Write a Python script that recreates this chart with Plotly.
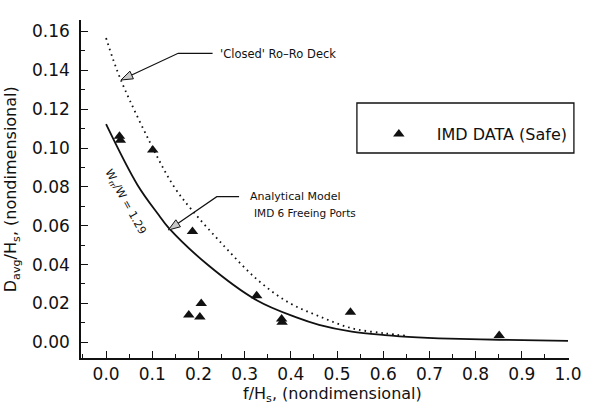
import plotly.graph_objects as go

# ---- data ----
imd_f = [0.029, 0.031, 0.101, 0.179, 0.187, 0.203, 0.206, 0.326, 0.380, 0.381, 0.529, 0.851]
imd_d = [0.106, 0.104, 0.099, 0.014, 0.057, 0.013, 0.020, 0.024, 0.012, 0.0103, 0.0155, 0.0035]

model_f = [0.0, 0.068, 0.114, 0.135, 0.22, 0.327, 0.412, 0.461, 0.532, 0.603, 0.674, 0.72, 0.85, 1.0]
model_d = [0.1123, 0.0810, 0.0655, 0.0590, 0.0399, 0.0215, 0.0128, 0.0090, 0.0055, 0.0037, 0.0025, 0.0020, 0.0013, 0.0007]

roro_f = [0.0, 0.032, 0.114, 0.149, 0.185, 0.256, 0.327, 0.395, 0.461, 0.532, 0.603, 0.65]
roro_d = [0.1566, 0.135, 0.094, 0.0794, 0.0683, 0.0494, 0.0323, 0.0205, 0.0134, 0.0072, 0.0046, 0.0033]

x_ticks = [0.0, 0.1, 0.2, 0.3, 0.4, 0.5, 0.6, 0.7, 0.8, 0.9, 1.0]
y_ticks = [0.00, 0.02, 0.04, 0.06, 0.08, 0.10, 0.12, 0.14, 0.16]

# ---- layout geometry (pixels) ----
W, H = 594, 406
L, R, T, B = 81, 16, 20, 48
PW, PH = W - L - R, H - T - B


def px(x):
    return (x - L) / PW


def py(y):
    return (H - B - y) / PH


FONT = "DejaVu Sans"
INK = "#111111"

fig = go.Figure()

fig.add_trace(go.Scatter(x=roro_f, y=roro_d, mode="lines", line=dict(color=INK, width=1.8, dash="1.6px,4px", shape="spline", smoothing=1.0),
                         showlegend=False, hoverinfo="skip"))
fig.add_trace(go.Scatter(x=model_f, y=model_d, mode="lines", line=dict(color=INK, width=1.8, shape="spline", smoothing=1.0),
                         showlegend=False, hoverinfo="skip"))
fig.add_trace(go.Scatter(x=imd_f, y=imd_d, mode="markers", name="IMD DATA (Safe)",
                         marker=dict(symbol="triangle-up", size=10, color=INK)))

shapes = []
# legend box
shapes.append(dict(type="rect", xref="paper", yref="paper", x0=px(362), x1=px(583), y0=py(153), y1=py(103),
                   line=dict(color=INK, width=1.3), fillcolor="rgba(0,0,0,0)"))


def leader(tip, bend, end):
    (tx, ty), (bx, by), (ex, ey) = tip, bend, end
    dx, dy = bx - tx, by - ty
    n = (dx * dx + dy * dy) ** 0.5
    ux, uy = dx / n, dy / n
    hl, hw = 12, 4.2
    cx, cy = tx + ux * hl, ty + uy * hl
    pxp, pyp = -uy, ux
    c1 = (cx + pxp * hw, cy + pyp * hw)
    c2 = (cx - pxp * hw, cy - pyp * hw)
    out = []
    out.append(dict(type="path", xref="paper", yref="paper",
                    path=f"M {px(cx)},{py(cy)} L {px(bx)},{py(by)} L {px(ex)},{py(ey)}",
                    line=dict(color=INK, width=1.2)))
    out.append(dict(type="path", xref="paper", yref="paper",
                    path=f"M {px(tx)},{py(ty)} L {px(c1[0])},{py(c1[1])} L {px(c2[0])},{py(c2[1])} Z",
                    line=dict(color=INK, width=1), fillcolor="#c8c8c8"))
    return out


shapes += leader((121.7, 80), (180, 53.3), (215, 53.3))
shapes += leader((170, 230), (219.3, 196.7), (242, 196.7))

annotations = [
    dict(text="'Closed' Ro\u2013Ro Deck", x=px(221), y=py(53.5), xref="paper", yref="paper", xanchor="left", yanchor="middle",
         showarrow=False, font=dict(family=FONT, size=11.5, color=INK)),
    dict(text="Analytical Model", x=px(251), y=py(196.7), xref="paper", yref="paper", xanchor="left", yanchor="middle",
         showarrow=False, font=dict(family=FONT, size=11, color=INK)),
    dict(text="IMD 6 Freeing Ports", x=px(255), y=py(212.7), xref="paper", yref="paper", xanchor="left", yanchor="middle",
         showarrow=False, font=dict(family=FONT, size=10.5, color=INK)),
    dict(text="W<sub>rr</sub>/W = 1.29", x=px(126), y=py(202), xref="paper", yref="paper", xanchor="center", yanchor="middle",
         textangle=61, showarrow=False, font=dict(family=FONT, size=11, color=INK)),
    dict(text="f/H<sub>s</sub>, (nondimensional)", x=px(337), y=py(394), xref="paper", yref="paper", xanchor="center", yanchor="middle",
         showarrow=False, font=dict(family=FONT, size=16, color=INK)),
    dict(text="D<sub>avg</sub>/H<sub>s</sub>, (nondimensional)", x=px(10), y=py(189), xref="paper", yref="paper", xanchor="center",
         yanchor="middle", textangle=-90, showarrow=False, font=dict(family=FONT, size=16, color=INK)),
]

fig.update_layout(
    width=W, height=H,
    margin=dict(l=L, r=R, t=T, b=B, pad=0),
    paper_bgcolor="white", plot_bgcolor="white",
    font=dict(family=FONT, size=16, color=INK),
    shapes=shapes, annotations=annotations,
    showlegend=True,
    legend=dict(x=px(366), y=py(134), xanchor="left", yanchor="middle", xref="paper", yref="paper",
                bgcolor="rgba(0,0,0,0)", borderwidth=0, itemwidth=66,
                font=dict(family=FONT, size=16, color=INK)),
    xaxis=dict(range=[-0.0543, 1.0021], showgrid=False, zeroline=False, showline=True, linecolor=INK, linewidth=1.5,
               ticks="inside", ticklen=7, tickwidth=1.2, tickcolor=INK, tickvals=x_ticks,
               ticktext=[f"{v:.1f}" for v in x_ticks], ticklabelstandoff=0,
               minor=dict(dtick=0.05, tick0=0, ticks="inside", ticklen=4, tickcolor=INK, tickwidth=1),
               tickfont=dict(family=FONT, size=17, color=INK)),
    yaxis=dict(range=[-0.0081, 0.1659], showgrid=False, zeroline=False, showline=True, linecolor=INK, linewidth=1.5,
               ticks="inside", ticklen=7, tickwidth=1.2, tickcolor=INK, tickvals=y_ticks,
               ticktext=[f"{v:.2f}" for v in y_ticks], ticklabelstandoff=6,
               minor=dict(dtick=0.01, tick0=0, ticks="inside", ticklen=4, tickcolor=INK, tickwidth=1),
               tickfont=dict(family=FONT, size=17, color=INK)),
)

fig.write_html("out.html")
